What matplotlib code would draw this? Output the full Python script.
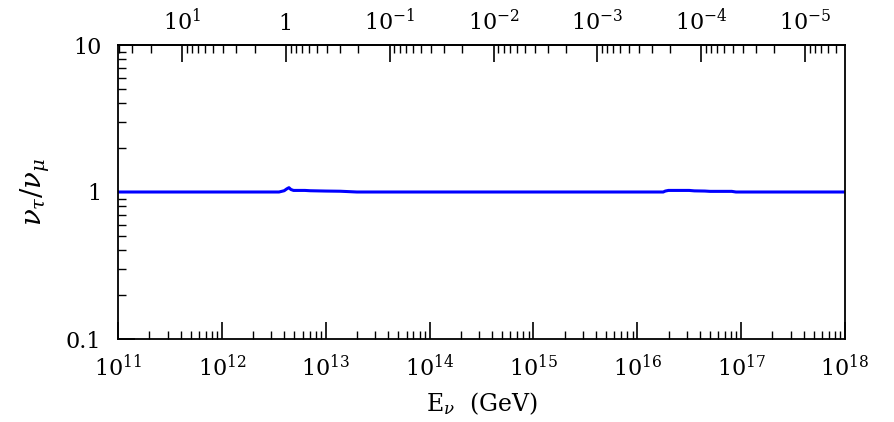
import numpy as np
import matplotlib
matplotlib.use("Agg")
import matplotlib.pyplot as plt
from matplotlib.ticker import FuncFormatter, LogLocator

plt.rcParams["font.family"] = ["DejaVu Serif"]
plt.rcParams["mathtext.fontset"] = "dejavuserif"

# log10 of neutrino energy (GeV) and the flux ratio
log_E = [11.0, 12.0, 12.55, 12.60, 12.625, 12.646, 12.665, 12.69, 12.80,
         12.85, 13.0, 13.14, 13.3, 14.0, 15.0, 16.0, 16.25, 16.27, 16.30,
         16.50, 16.55, 16.65, 16.70, 16.91, 16.95, 17.5, 18.0]
ratio = [1.0, 1.0, 1.0, 1.02, 1.05, 1.07, 1.04, 1.025, 1.025,
         1.02, 1.015, 1.012, 1.0, 1.0, 1.0, 1.0, 1.0, 1.015, 1.025,
         1.025, 1.018, 1.015, 1.01, 1.01, 1.0, 1.0, 1.0]

# top axis: E0 / E
E0 = 10 ** 12.616

x_ticks = [1e11, 1e12, 1e13, 1e14, 1e15, 1e16, 1e17, 1e18]
y_ticks = [0.1, 1, 10]
y_labels = ["0.1", "1", "10"]
top_ticks = [1e1, 1, 1e-1, 1e-2, 1e-3, 1e-4, 1e-5]

E = 10 ** np.array(log_E)

fig = plt.figure(figsize=(8.94, 4.22), dpi=100)
ax = fig.add_axes([118 / 894, 83 / 422, 727 / 894, 294 / 422])

ax.plot(E, ratio, color="#0000ff", lw=2.2)

ax.set_xscale("log")
ax.set_yscale("log")
ax.set_xlim(1e11, 1e18)
ax.set_ylim(0.1, 10)

ax.set_xticks(x_ticks)
ax.set_yticks(y_ticks)
ax.set_yticklabels(y_labels)
ax.xaxis.set_minor_locator(LogLocator(base=10, subs=np.arange(2, 10)))
ax.yaxis.set_minor_locator(LogLocator(base=10, subs=np.arange(2, 10)))

ax.tick_params(which="both", direction="in", top=False, right=False,
               labelsize=16)
ax.tick_params(which="major", length=12, width=1.2)
ax.tick_params(which="minor", length=5.5, width=1.0)
ax.tick_params(axis="x", which="both", pad=11)
ax.tick_params(axis="y", which="both", pad=12)

for s in ax.spines.values():
    s.set_linewidth(1.3)


def fwd(x):
    x = np.asarray(x, dtype=float)
    with np.errstate(divide="ignore"):
        return E0 / x


secax = ax.secondary_xaxis("top", functions=(fwd, fwd))
secax.set_xticks(top_ticks)


def top_fmt(v, pos):
    p = int(round(np.log10(v)))
    if p == 0:
        return "1"
    return r"$\mathdefault{10^{%d}}$" % p


secax.xaxis.set_major_formatter(FuncFormatter(top_fmt))
secax.xaxis.set_minor_locator(LogLocator(base=10, subs=np.arange(2, 10)))
secax.tick_params(which="both", direction="in", labelsize=16, pad=7)
secax.tick_params(which="major", length=12, width=1.2)
secax.tick_params(which="minor", length=5.5, width=1.0)
secax.spines["top"].set_linewidth(1.3)

ax.set_xlabel(r"E$_\nu$  (GeV)", fontsize=17, labelpad=7)
ax.set_ylabel(r"$\nu_\tau/\nu_\mu$", fontsize=20, labelpad=10)

fig.savefig("out.png", dpi=100)
